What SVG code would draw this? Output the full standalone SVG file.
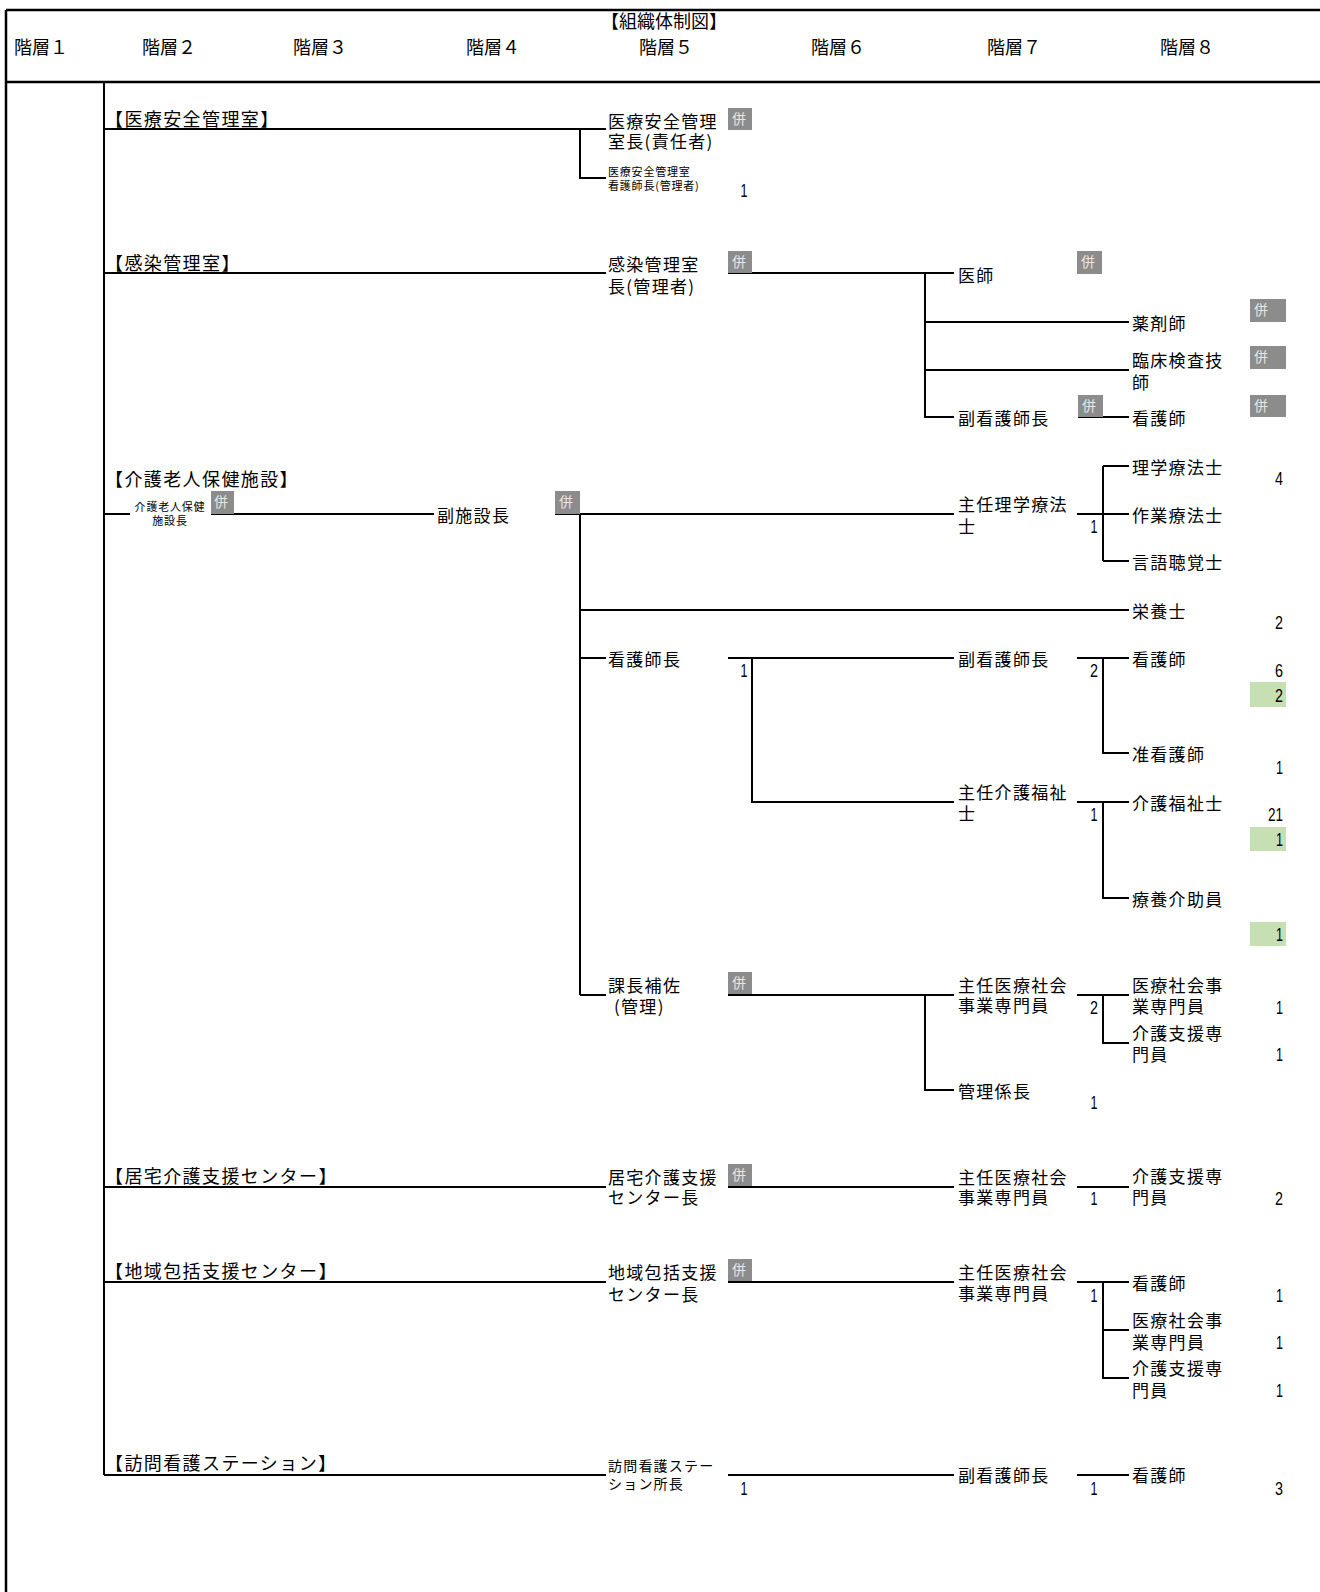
<svg xmlns="http://www.w3.org/2000/svg" width="1320" height="1592" viewBox="0 0 1320 1592">
<style>
.t{font-family:"Noto Sans CJK JP","Liberation Sans",sans-serif;font-size:17px;letter-spacing:1.3px;dominant-baseline:central;fill:#000}
.b{font-family:"Noto Sans CJK JP","Liberation Sans",sans-serif;font-size:18px;letter-spacing:1.4px;dominant-baseline:central;fill:#000}
.h{font-family:"Noto Sans CJK JP","Liberation Sans",sans-serif;font-size:18px;dominant-baseline:central;fill:#000}
.s{font-family:"Noto Sans CJK JP","Liberation Sans",sans-serif;font-size:11px;letter-spacing:0.8px;dominant-baseline:central;fill:#000}
.m{font-family:"Noto Sans CJK JP","Liberation Sans",sans-serif;font-size:14px;letter-spacing:1.2px;dominant-baseline:central;fill:#000}
.ne{font-family:"Liberation Sans Narrow","Liberation Sans",sans-serif;font-size:19px;dominant-baseline:central;text-anchor:end;fill:#000}
.nc{font-family:"Liberation Sans Narrow","Liberation Sans",sans-serif;font-size:19px;dominant-baseline:central;text-anchor:middle;fill:#000}
.ln{stroke:#000;stroke-width:2;fill:none}
.fr{stroke:#000;stroke-width:2.5;fill:none}
.hb{fill:#8c8c8c}
.ht{font-family:"Noto Sans CJK JP",sans-serif;font-size:14px;fill:#e6e6e6;dominant-baseline:central}
.gb{fill:#c6e0b4}
</style>

<g id="frame">
<path class="fr" d="M6 10H1320M6 10V1592M6 82H1320"/>
</g>

<g id="header">
<text class="h" x="664" y="20" text-anchor="middle">【組織体制図】</text>
<text class="h" x="14" y="46">階層１</text>
<text class="h" x="142" y="46">階層２</text>
<text class="h" x="293" y="46">階層３</text>
<text class="h" x="466" y="46">階層４</text>
<text class="h" x="639" y="46">階層５</text>
<text class="h" x="811" y="46">階層６</text>
<text class="h" x="987" y="46">階層７</text>
<text class="h" x="1160" y="46">階層８</text>
</g>

<g id="connectors">
<path class="ln" d="M104 82V1475"/>
<path class="ln" d="M104 129H606M580 129V178H606"/>
<path class="ln" d="M104 273H606M728 273H954M925 273V417H954M925 322H1129M925 370H1129M1078 417H1129"/>
<path class="ln" d="M104 514H130M211 514H434M555 514H954M1077 514H1129M1103 466V561M1103 466H1129M1103 561H1129"/>
<path class="ln" d="M580 514V995M580 610H1129M580 658H606M728 658H954M752 658V802H954"/>
<path class="ln" d="M1077 658H1129M1103 658V753H1129M1077 802H1129M1103 802V898H1129"/>
<path class="ln" d="M580 995H606M728 995H954M925 995V1090H954M1077 995H1129M1103 995V1043H1129"/>
<path class="ln" d="M104 1187H606M728 1187H954M1077 1187H1129"/>
<path class="ln" d="M104 1282H606M728 1282H954M1077 1282H1129M1103 1282V1378H1129M1103 1330H1129"/>
<path class="ln" d="M104 1475H606M728 1475H954M1077 1475H1129"/>
</g>

<!-- Section 1 -->
<g id="sec-iryo-anzen">
<text class="b" x="105" y="118">【医療安全管理室】</text>
</g>
<g id="iryo-anzen-chief">
<text class="t" x="608" y="120">医療安全管理<tspan x="608" y="140">室長(責任者)</tspan></text>
<rect class="hb" x="728" y="108" width="24" height="22"/><text class="ht" x="732" y="118">併</text>
</g>
<g id="iryo-anzen-nurse">
<text class="s" x="608" y="171">医療安全管理室<tspan x="608" y="185">看護師長(管理者)</tspan></text>
<text class="nc" x="744" y="190" textLength="7" lengthAdjust="spacingAndGlyphs">1</text>
</g>

<!-- Section 2 -->
<g id="sec-kansen">
<text class="b" x="105" y="262">【感染管理室】</text>
</g>
<g id="kansen-chief">
<text class="t" x="608" y="263">感染管理室<tspan x="608" y="285">長(管理者)</tspan></text>
<rect class="hb" x="728" y="251" width="24" height="22"/><text class="ht" x="732" y="261">併</text>
</g>
<g id="kansen-ishi">
<text class="t" x="958" y="274">医師</text>
<rect class="hb" x="1077" y="251" width="25" height="23"/><text class="ht" x="1081" y="261">併</text>
</g>
<g id="kansen-yakuzaishi">
<text class="t" x="1132" y="322">薬剤師</text>
<rect class="hb" x="1250" y="299" width="36" height="23"/><text class="ht" x="1254" y="309">併</text>
</g>
<g id="kansen-rinsho">
<text class="t" x="1132" y="359">臨床検査技<tspan x="1132" y="381">師</tspan></text>
<rect class="hb" x="1250" y="346" width="36" height="23"/><text class="ht" x="1254" y="356">併</text>
</g>
<g id="kansen-fuku">
<text class="t" x="958" y="417">副看護師長</text>
<rect class="hb" x="1078" y="395" width="25" height="22"/><text class="ht" x="1082" y="405">併</text>
</g>
<g id="kansen-kango">
<text class="t" x="1132" y="417">看護師</text>
<rect class="hb" x="1250" y="395" width="36" height="22"/><text class="ht" x="1254" y="405">併</text>
</g>

<!-- Section 3 -->
<g id="sec-kaigo">
<text class="b" x="105" y="478">【介護老人保健施設】</text>
</g>
<g id="kaigo-chief">
<text class="s" x="170" y="506" text-anchor="middle">介護老人保健<tspan x="170" y="520">施設長</tspan></text>
<rect class="hb" x="211" y="491" width="23" height="23"/><text class="ht" x="214" y="501">併</text>
</g>
<g id="kaigo-fuku">
<text class="t" x="437" y="514">副施設長</text>
<rect class="hb" x="555" y="491" width="25" height="23"/><text class="ht" x="559" y="501">併</text>
</g>
<g id="kaigo-shunin-rigaku">
<text class="t" x="958" y="503">主任理学療法<tspan x="958" y="525">士</tspan></text>
<text class="nc" x="1094" y="526" textLength="7" lengthAdjust="spacingAndGlyphs">1</text>
</g>
<g id="kaigo-rigaku"><text class="t" x="1132" y="466">理学療法士</text><text class="ne" x="1283" y="478" textLength="8" lengthAdjust="spacingAndGlyphs">4</text></g>
<g id="kaigo-sagyo"><text class="t" x="1132" y="514">作業療法士</text></g>
<g id="kaigo-gengo"><text class="t" x="1132" y="561">言語聴覚士</text></g>
<g id="kaigo-eiyo"><text class="t" x="1132" y="610">栄養士</text><text class="ne" x="1283" y="622" textLength="8" lengthAdjust="spacingAndGlyphs">2</text></g>
<g id="kaigo-kangoshicho">
<text class="t" x="608" y="658">看護師長</text>
<text class="nc" x="744" y="670" textLength="7" lengthAdjust="spacingAndGlyphs">1</text>
</g>
<g id="kaigo-fukukango">
<text class="t" x="958" y="658">副看護師長</text>
<text class="nc" x="1094" y="670" textLength="8" lengthAdjust="spacingAndGlyphs">2</text>
</g>
<g id="kaigo-kango">
<text class="t" x="1132" y="658">看護師</text>
<text class="ne" x="1283" y="670" textLength="8" lengthAdjust="spacingAndGlyphs">6</text>
<rect class="gb" x="1250" y="682" width="36" height="25"/><text class="ne" x="1283" y="695" textLength="8" lengthAdjust="spacingAndGlyphs">2</text>
</g>
<g id="kaigo-junkango">
<text class="t" x="1132" y="753">准看護師</text>
<text class="ne" x="1283" y="767" textLength="7" lengthAdjust="spacingAndGlyphs">1</text>
</g>
<g id="kaigo-shunin-kaigo">
<text class="t" x="958" y="791">主任介護福祉<tspan x="958" y="812">士</tspan></text>
<text class="nc" x="1094" y="814" textLength="7" lengthAdjust="spacingAndGlyphs">1</text>
</g>
<g id="kaigo-kaigofukushi">
<text class="t" x="1132" y="802">介護福祉士</text>
<text class="ne" x="1283" y="814" textLength="15" lengthAdjust="spacingAndGlyphs">21</text>
<rect class="gb" x="1250" y="827" width="36" height="24"/><text class="ne" x="1283" y="839" textLength="7" lengthAdjust="spacingAndGlyphs">1</text>
</g>
<g id="kaigo-ryoyo">
<text class="t" x="1132" y="898">療養介助員</text>
<rect class="gb" x="1250" y="922" width="36" height="24"/><text class="ne" x="1283" y="934" textLength="7" lengthAdjust="spacingAndGlyphs">1</text>
</g>
<g id="kaigo-kacho">
<text class="t" x="608" y="984">課長補佐<tspan x="614" y="1005">(管理)</tspan></text>
<rect class="hb" x="728" y="972" width="24" height="22"/><text class="ht" x="732" y="982">併</text>
</g>
<g id="kaigo-shunin-iryo">
<text class="t" x="958" y="984">主任医療社会<tspan x="958" y="1004">事業専門員</tspan></text>
<text class="nc" x="1094" y="1007" textLength="8" lengthAdjust="spacingAndGlyphs">2</text>
</g>
<g id="kaigo-iryoshakai">
<text class="t" x="1132" y="984">医療社会事<tspan x="1132" y="1005">業専門員</tspan></text>
<text class="ne" x="1283" y="1007" textLength="7" lengthAdjust="spacingAndGlyphs">1</text>
</g>
<g id="kaigo-shien">
<text class="t" x="1132" y="1032">介護支援専<tspan x="1132" y="1053">門員</tspan></text>
<text class="ne" x="1283" y="1054" textLength="7" lengthAdjust="spacingAndGlyphs">1</text>
</g>
<g id="kaigo-kanri">
<text class="t" x="958" y="1090">管理係長</text>
<text class="nc" x="1094" y="1102" textLength="7" lengthAdjust="spacingAndGlyphs">1</text>
</g>

<!-- Section 4 -->
<g id="sec-kyotaku">
<text class="b" x="105" y="1175">【居宅介護支援センター】</text>
</g>
<g id="kyotaku-chief">
<text class="t" x="608" y="1176">居宅介護支援<tspan x="608" y="1196">センター長</tspan></text>
<rect class="hb" x="728" y="1164" width="24" height="22"/><text class="ht" x="732" y="1174">併</text>
</g>
<g id="kyotaku-shunin">
<text class="t" x="958" y="1176">主任医療社会<tspan x="958" y="1196">事業専門員</tspan></text>
<text class="nc" x="1094" y="1198" textLength="7" lengthAdjust="spacingAndGlyphs">1</text>
</g>
<g id="kyotaku-shien">
<text class="t" x="1132" y="1175">介護支援専<tspan x="1132" y="1196">門員</tspan></text>
<text class="ne" x="1283" y="1198" textLength="8" lengthAdjust="spacingAndGlyphs">2</text>
</g>

<!-- Section 5 -->
<g id="sec-chiiki">
<text class="b" x="105" y="1270">【地域包括支援センター】</text>
</g>
<g id="chiiki-chief">
<text class="t" x="608" y="1271">地域包括支援<tspan x="608" y="1293">センター長</tspan></text>
<rect class="hb" x="728" y="1259" width="24" height="22"/><text class="ht" x="732" y="1269">併</text>
</g>
<g id="chiiki-shunin">
<text class="t" x="958" y="1271">主任医療社会<tspan x="958" y="1292">事業専門員</tspan></text>
<text class="nc" x="1094" y="1295" textLength="7" lengthAdjust="spacingAndGlyphs">1</text>
</g>
<g id="chiiki-kango">
<text class="t" x="1132" y="1282">看護師</text>
<text class="ne" x="1283" y="1295" textLength="7" lengthAdjust="spacingAndGlyphs">1</text>
</g>
<g id="chiiki-iryo">
<text class="t" x="1132" y="1319">医療社会事<tspan x="1132" y="1341">業専門員</tspan></text>
<text class="ne" x="1283" y="1342" textLength="7" lengthAdjust="spacingAndGlyphs">1</text>
</g>
<g id="chiiki-shien">
<text class="t" x="1132" y="1367">介護支援専<tspan x="1132" y="1389">門員</tspan></text>
<text class="ne" x="1283" y="1390" textLength="7" lengthAdjust="spacingAndGlyphs">1</text>
</g>

<!-- Section 6 -->
<g id="sec-houmon">
<text class="b" x="105" y="1462">【訪問看護ステーション】</text>
</g>
<g id="houmon-chief">
<text class="m" x="608" y="1465">訪問看護ステー<tspan x="608" y="1483">ション所長</tspan></text>
<text class="nc" x="744" y="1488" textLength="7" lengthAdjust="spacingAndGlyphs">1</text>
</g>
<g id="houmon-fuku">
<text class="t" x="958" y="1474">副看護師長</text>
<text class="nc" x="1094" y="1488" textLength="7" lengthAdjust="spacingAndGlyphs">1</text>
</g>
<g id="houmon-kango">
<text class="t" x="1132" y="1474">看護師</text>
<text class="ne" x="1283" y="1488" textLength="8" lengthAdjust="spacingAndGlyphs">3</text>
</g>
</svg>
